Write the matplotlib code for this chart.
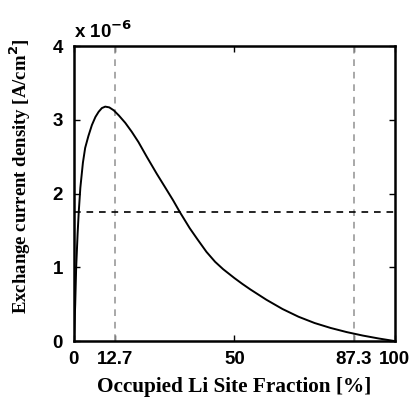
import numpy as np
import matplotlib
matplotlib.use("Agg")
import matplotlib.pyplot as plt

# occupied Li site fraction [%] and exchange current density [x 1e-6 A/cm^2]
site_frac = [0, 0.2, 0.4, 0.7, 1.15, 1.5, 2.0, 2.8, 3.5, 4.5, 5.6, 6.7, 7.7, 8.7,
             9.75, 11.0, 12.4, 14.0, 16.0, 18.0, 20.1, 22.7, 25.8, 28.5, 30.9,
             33.0, 36.1, 38.5, 41.3, 44.0, 46.5, 50.0, 52.5, 55.0, 60.0, 65.0,
             70.0, 75.0, 80.0, 85.0, 90.0, 95.0, 100.0]
i0 = [0, 0.25, 0.5, 1.0, 1.46, 1.75, 2.08, 2.42, 2.62, 2.78, 2.93, 3.04, 3.11, 3.16,
      3.18, 3.17, 3.13, 3.06, 2.96, 2.84, 2.70, 2.50, 2.27, 2.08, 1.91,
      1.75, 1.53, 1.38, 1.21, 1.075, 0.975, 0.855, 0.775, 0.70, 0.56, 0.435,
      0.33, 0.245, 0.178, 0.122, 0.075, 0.035, 0.0]

vlines = [12.7, 87.3]
hline = 1.75
xticks = [0, 12.7, 50, 87.3, 100]
xticklabels = ['0', '12.7', '50', '87.3', '100']
yticks = [0, 1, 2, 3, 4]

fig = plt.figure(figsize=(4.13, 3.98), dpi=100)
ax = fig.add_axes([0.179, 0.143, 0.777, 0.741])

for v in vlines:
    ax.axvline(v, color='#999999', ls='--', lw=1.2, dashes=(4, 3.5))
ax.axhline(hline, color='black', ls='--', lw=1.2, dashes=(4, 3.5))
ax.plot(site_frac, i0, color='black', lw=1.4)

ax.set_xlim(0, 100)
ax.set_ylim(0, 4)
ax.set_xticks(xticks)
ax.set_xticklabels(xticklabels)
ax.set_yticks(yticks)
ax.tick_params(direction='in', top=True, right=True, length=4, width=1,
               labelsize=13.5)
ax.tick_params(axis='x', pad=7)
ax.tick_params(axis='y', pad=8)
for lab in ax.get_xticklabels() + ax.get_yticklabels():
    lab.set_fontweight('bold')
    lab.set_family('Liberation Sans')
for s in ax.spines.values():
    s.set_linewidth(1.8)

ax.set_xlabel('Occupied Li Site Fraction [%]', family='Liberation Serif',
              fontweight='bold', fontsize=15.3)
ax.xaxis.set_label_coords(0.5, -0.122)
ax.set_ylabel('Exchange current density [A/cm$^\\mathbf{2}$]', family='Liberation Serif',
              fontweight='bold', fontsize=13.5)
ax.yaxis.set_label_coords(-0.128, 0.558)
ax.text(0.0, 1.015, 'x 10$^{\\mathbf{-6}}$', transform=ax.transAxes,
        family='Liberation Sans', fontweight='bold', fontsize=13.5,
        ha='left', va='bottom')

fig.savefig('out.png', dpi=100)
